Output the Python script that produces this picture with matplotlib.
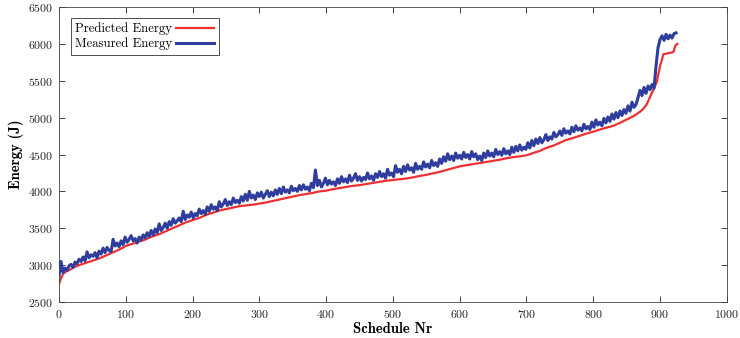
import numpy as np
import matplotlib
matplotlib.use("Agg")
import matplotlib.pyplot as plt

plt.rcParams['font.family'] = ['cmr10', 'DejaVu Serif']
plt.rcParams['mathtext.fontset'] = 'cm'
plt.rcParams['axes.formatter.use_mathtext'] = True

# Predicted energy (sorted), schedule numbers and values
pred_x = [0, 3, 6, 10, 15, 20, 30, 40, 50, 60, 70, 80, 90, 100, 110, 120, 130, 140, 150,
          160, 170, 180, 190, 200, 210, 220, 230, 240, 250, 260, 270, 280, 290, 300, 310,
          320, 330, 340, 350, 360, 370, 380, 390, 400, 410, 420, 430, 440, 450, 460, 470,
          480, 490, 500, 510, 520, 530, 540, 550, 560, 570, 580, 590, 600, 610, 620, 630,
          640, 650, 660, 670, 680, 690, 700, 710, 720, 730, 740, 750, 760, 770, 780, 790,
          800, 810, 820, 830, 840, 850, 860, 870, 875, 880, 885, 890, 895, 900, 905, 910,
          915, 920, 923, 926]
pred_y = [2740, 2820, 2880, 2910, 2930, 2960, 3000, 3030, 3060, 3090, 3130, 3170, 3210, 3260,
          3290, 3320, 3350, 3390, 3420, 3460, 3500, 3540, 3580, 3610, 3640, 3680, 3710, 3740,
          3760, 3780, 3800, 3810, 3820, 3835, 3850, 3870, 3890, 3910, 3930, 3950, 3965, 3980,
          4000, 4010, 4030, 4045, 4060, 4075, 4085, 4100, 4115, 4130, 4145, 4155, 4165, 4175,
          4190, 4210, 4225, 4245, 4265, 4290, 4315, 4340, 4355, 4370, 4385, 4400, 4415, 4430,
          4450, 4465, 4475, 4490, 4520, 4550, 4590, 4620, 4660, 4700, 4725, 4755, 4785, 4810,
          4840, 4865, 4890, 4930, 4975, 5020, 5080, 5120, 5180, 5280, 5380, 5480, 5700, 5860,
          5870, 5880, 5890, 5980, 6000]

# Measured energy, every 3rd schedule (0 .. 924)
meas_x = list(range(0, 925, 3))
meas_y = [2850, 3050, 2900, 2960, 2930, 2990, 3010, 2970, 3040, 3020,
          3080, 3050, 3110, 3060, 3180, 3100, 3140, 3120, 3170, 3100,
          3190, 3150, 3230, 3170, 3240, 3200, 3180, 3350, 3260, 3300,
          3250, 3330, 3280, 3380, 3310, 3350, 3400, 3330, 3360, 3300,
          3380, 3340, 3410, 3370, 3440, 3390, 3470, 3410, 3490, 3440,
          3560, 3470, 3510, 3570, 3500, 3590, 3540, 3630, 3570, 3600,
          3640, 3590, 3730, 3620, 3680, 3650, 3720, 3640, 3700, 3670,
          3760, 3700, 3740, 3690, 3790, 3730, 3820, 3760, 3790, 3740,
          3860, 3790, 3830, 3890, 3810, 3860, 3820, 3910, 3850, 3880,
          3840, 3930, 3870, 3960, 3880, 4000, 3910, 3950, 3890, 3980,
          3930, 3990, 3910, 3960, 4010, 3930, 3990, 3940, 4020, 3960,
          4040, 3970, 4060, 3990, 4020, 3980, 4070, 4010, 4040, 4000,
          4080, 4020, 4090, 4030, 4060, 4010, 4110, 4050, 4290, 4080,
          4150, 4060, 4110, 4180, 4090, 4150, 4100, 4130, 4080, 4170,
          4110, 4200, 4130, 4170, 4120, 4220, 4140, 4180, 4240, 4150,
          4200, 4140, 4190, 4160, 4250, 4170, 4210, 4150, 4240, 4190,
          4270, 4200, 4240, 4180, 4300, 4220, 4250, 4200, 4350, 4260,
          4300, 4240, 4340, 4270, 4360, 4290, 4320, 4260, 4380, 4300,
          4340, 4300, 4400, 4330, 4370, 4320, 4420, 4350, 4390, 4340,
          4440, 4380, 4470, 4410, 4510, 4430, 4480, 4420, 4520, 4450,
          4490, 4440, 4530, 4460, 4500, 4440, 4540, 4470, 4510, 4430,
          4480, 4420, 4520, 4460, 4550, 4480, 4520, 4470, 4570, 4500,
          4540, 4490, 4580, 4510, 4550, 4500, 4600, 4530, 4610, 4550,
          4630, 4560, 4600, 4570, 4660, 4590, 4690, 4620, 4710, 4650,
          4730, 4660, 4700, 4770, 4690, 4740, 4710, 4800, 4740, 4770,
          4820, 4760, 4850, 4790, 4820, 4780, 4870, 4810, 4890, 4830,
          4860, 4820, 4910, 4850, 4880, 4840, 4940, 4870, 4970, 4900,
          4940, 4890, 4990, 4930, 5010, 4950, 5050, 4980, 5070, 5000,
          5090, 5030, 5110, 5060, 5160, 5090, 5210, 5140, 5180, 5270,
          5370, 5300, 5410, 5330, 5430, 5380, 5450, 5400, 5700, 5950,
          6060, 6110, 6050, 6130, 6070, 6120, 6080, 6140, 6150]

x_ticks = [0, 100, 200, 300, 400, 500, 600, 700, 800, 900, 1000]
y_ticks = [2500, 3000, 3500, 4000, 4500, 5000, 5500, 6000, 6500]

fig = plt.figure(figsize=(7.4, 3.38), dpi=100)
ax = fig.add_axes([0.0797, 0.1065, 0.9025, 0.8725])

ax.plot(pred_x, pred_y, color='#f03030', lw=1.6, label='Predicted Energy', zorder=2)
ax.plot(meas_x, meas_y, color='#2e3d9e', lw=2.2, label='Measured Energy', zorder=3)

ax.set_xlim(0, 1000)
ax.set_ylim(2500, 6500)
ax.set_xticks(x_ticks)
ax.set_yticks(y_ticks)
ax.tick_params(direction='in', top=True, right=True, length=4, width=0.6,
               labelsize=8.5, colors='#222222', pad=4)
for s in ax.spines.values():
    s.set_linewidth(0.6)
    s.set_color('#444444')

ax.set_xlabel('Schedule Nr', fontsize=10.5, labelpad=2, family=['cmb10', 'DejaVu Serif'])
ax.set_ylabel('Energy (J)', fontsize=10.5, labelpad=3, family=['cmb10', 'DejaVu Serif'])

leg = ax.legend(loc='upper left', markerfirst=False, fancybox=False, fontsize=9.2,
                edgecolor='#333333', framealpha=1, borderpad=0.35, handlelength=3.0,
                labelspacing=0.2, handletextpad=0.3,
                bbox_to_anchor=(0.008, 0.985))
leg.get_frame().set_linewidth(0.6)
for t in leg.get_texts():
    t.set_ha('right')

fig.savefig('out.png', dpi=100)
